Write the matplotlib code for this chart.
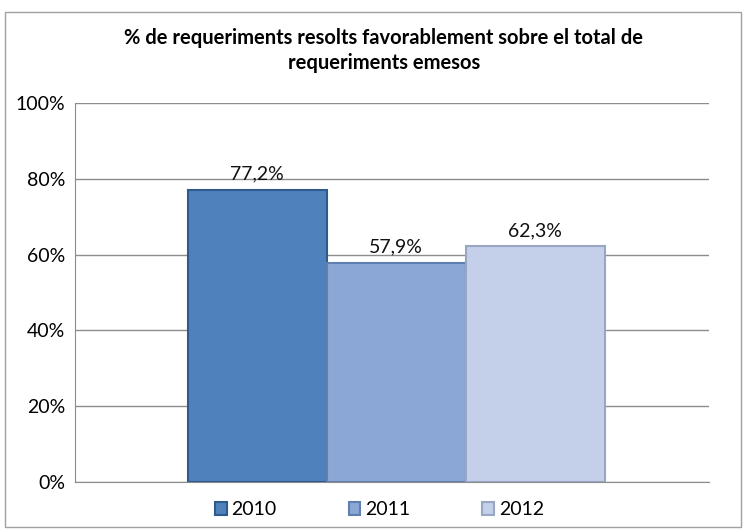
import matplotlib.pyplot as plt
from matplotlib.patches import Rectangle

years = ['2010', '2011', '2012']
values = [77.2, 57.9, 62.3]
labels = ['77,2%', '57,9%', '62,3%']
colors = ['#4F81BD', '#8AA7D5', '#C4D0E9']
edges = ['#2F5A8C', '#5F7FB0', '#98A6C4']

plt.rcParams['font.family'] = ['Lato', 'DejaVu Sans']

fig = plt.figure(figsize=(7.48, 5.32), dpi=100)
fig.patches.append(Rectangle((0.007, 0.009), 0.984, 0.968, transform=fig.transFigure,
                             fill=False, edgecolor='#A0A0A0', linewidth=1))
ax = fig.add_axes([0.1003, 0.094, 0.8477, 0.712])

x = range(len(years))
bars = ax.bar(x, values, width=1.0, color=colors, edgecolor=edges, linewidth=1.5,
              label=years, zorder=3)
for b, t in zip(bars, labels):
    ax.text(b.get_x() + b.get_width() / 2, b.get_height() + 1.8, t,
            ha='center', va='bottom', fontsize=14, color='#111111')

ax.set_xlim(-1.31, 3.25)
ax.set_ylim(0, 100)
ax.set_yticks([0, 20, 40, 60, 80, 100])
ax.set_yticklabels(['0%', '20%', '40%', '60%', '80%', '100%'], fontsize=14)
ax.set_xticks([])
ax.grid(axis='y', color='#8C8C8C', linewidth=1, zorder=0)
ax.tick_params(axis='y', length=0, pad=7)
for s in ['top', 'right']:
    ax.spines[s].set_visible(False)
ax.spines['left'].set_color('#8C8C8C')
ax.spines['bottom'].set_color('#8C8C8C')

ax.legend(handles=bars, labels=years, loc='upper center', bbox_to_anchor=(0.48, -0.005),
          ncol=3, frameon=False, fontsize=14, handlelength=0.6, handleheight=0.6,
          columnspacing=3.7, handletextpad=0.25)

fig.text(0.513, 0.905, '% de requeriments resolts favorablement sobre el total de\nrequeriments emesos',
         ha='center', va='center', fontsize=14.5, fontweight='bold', linespacing=1.35)

fig.savefig('out.png', dpi=100)
